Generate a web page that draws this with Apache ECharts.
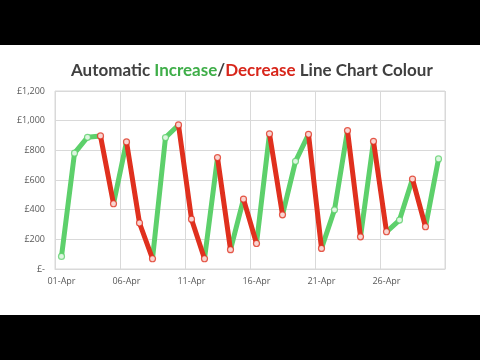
<!DOCTYPE html>
<html>
<head>
<meta charset="utf-8">
<script src="https://cdn.jsdelivr.net/npm/echarts@6/dist/echarts.min.js"></script>
<style>
html, body { margin: 0; padding: 0; background: #000; }
#main { width: 480px; height: 360px; background: linear-gradient(#000 0, #000 45px, #fff 45px, #fff 315px, #000 315px, #000 360px); }
</style>
</head>
<body>
<div id="main"></div>
<script>
var days = [];
for (var d = 1; d <= 30; d++) days.push((d < 10 ? '0' + d : '' + d) + '-Apr');

var sales = [85, 781, 888, 897, 440, 857, 310, 69, 886, 971,
             336, 69, 751, 130, 471, 172, 911, 365, 726, 908,
             139, 399, 933, 217, 861, 251, 330, 606, 285, 742];

var yTicks = [0, 200, 400, 600, 800, 1000, 1200];

var upColor = '#5dd06b';
var downColor = '#e0301e';

// one short line per segment, coloured by direction (falls drawn on top)
var series = [];
for (var i = 0; i < sales.length - 1; i++) {
    var down = sales[i + 1] < sales[i];
    var seg = sales.map(function (v, j) { return (j === i || j === i + 1) ? v : null; });
    series.push({
        type: 'line',
        data: seg,
        showSymbol: false,
        connectNulls: false,
        lineStyle: { width: 5, color: down ? downColor : upColor, cap: 'round', join: 'round' },
        animation: false,
        silent: true,
        z: down ? 3 : 2
    });
}

// marker border: red if next to a falling segment
var markers = sales.map(function (v, i) {
    var down = (i > 0 && sales[i] < sales[i - 1]) || (i < sales.length - 1 && sales[i + 1] < sales[i]);
    return { value: [i, v], itemStyle: { borderColor: down ? downColor : upColor } };
});
series.push({
    type: 'scatter',
    data: markers,
    symbolSize: 6,
    itemStyle: { color: '#fff', borderWidth: 1.2 },
    animation: false,
    z: 4
});

var myChart = echarts.init(document.getElementById('main'));
var option = {
    title: {
        text: '{d|Automatic }{g|Increase}{d|/}{r|Decrease}{d| Line Chart Colour}',
        left: 66,
        top: 57,
        textStyle: {
            rich: {
                d: { color: '#404040', fontSize: 17, fontWeight: 'bold', fontFamily: 'Lato' },
                g: { color: '#3fae49', fontSize: 17, fontWeight: 'bold', fontFamily: 'Lato' },
                r: { color: '#d8261b', fontSize: 17, fontWeight: 'bold', fontFamily: 'Lato' }
            }
        }
    },
    grid: {
        left: 55, right: 35, top: 91, bottom: 91,
        show: true, borderColor: '#d9d9d9', borderWidth: 1
    },
    xAxis: {
        type: 'category',
        data: days,
        boundaryGap: true,
        axisLine: { lineStyle: { color: '#d9d9d9' } },
        axisTick: { show: false },
        axisLabel: { interval: 4, color: '#595959', fontSize: 9, fontFamily: 'Open Sans', margin: 8 },
        splitLine: { show: true, interval: 4, lineStyle: { color: '#d9d9d9' } }
    },
    yAxis: {
        type: 'value',
        min: yTicks[0],
        max: yTicks[yTicks.length - 1],
        interval: 200,
        axisLine: { show: false },
        axisTick: { show: false },
        axisLabel: {
            color: '#595959', fontSize: 9, fontFamily: 'Open Sans', margin: 10,
            formatter: function (v) {
                return v === 0 ? '£-' : '£' + v.toLocaleString('en-GB');
            }
        },
        splitLine: { lineStyle: { color: '#d9d9d9' } }
    },
    series: series
};
myChart.setOption(option);
</script>
</body>
</html>
